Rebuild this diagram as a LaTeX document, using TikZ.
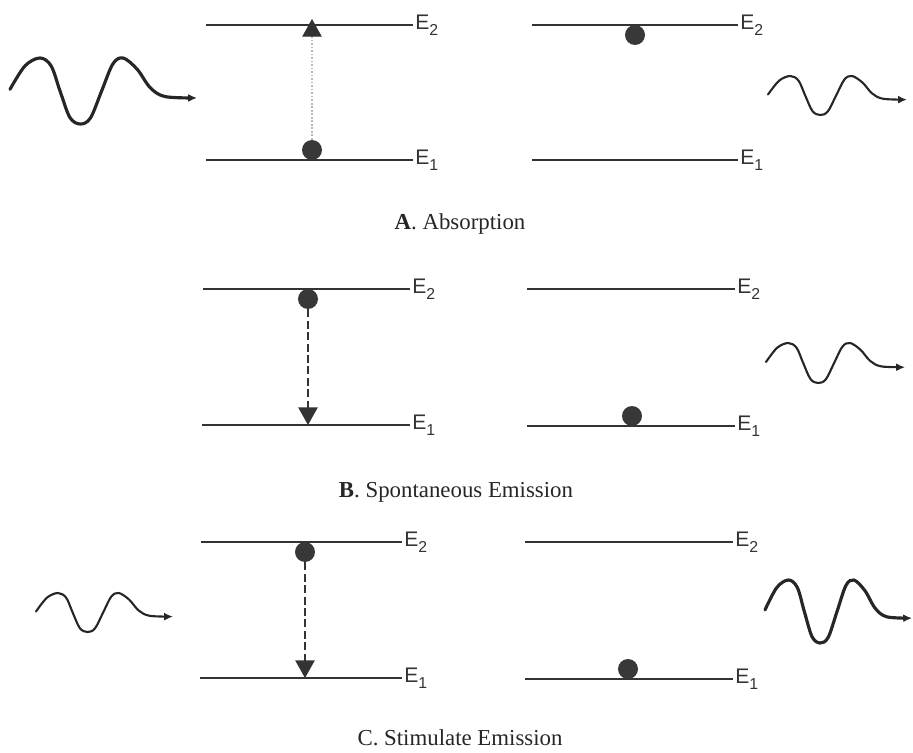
\documentclass[tikz,border=0pt]{standalone}
\usepackage{fontspec}
\setmainfont{Liberation Serif}
\newfontfamily\levelfont{Liberation Sans}
\usetikzlibrary{arrows.meta}

\tikzset{
  level/.style={draw=black!80, line width=0.7pt},
  levellabel/.style={anchor=west, inner sep=1pt, text=black!80,
    font=\levelfont\fontsize{12}{14}\selectfont},
  electron/.style={circle, fill=black!78, inner sep=0pt, minimum size=0.4cm},
  caption/.style={anchor=base, text=black!85, font=\fontsize{13}{15}\selectfont},
  photon/.style={draw=black!85, line width=1.2pt, line cap=round,
    -{Latex[length=5pt,width=4.5pt]}},
  decay/.style={draw=black!80, line width=0.7pt, dash pattern=on 4.5pt off 2pt,
    -{Triangle[length=10pt,width=11pt]}}
}

% level name with a low subscript
\newcommand{\lvl}[1]{E\raisebox{-0.55ex}{\fontsize{9}{9}\selectfont #1}}

% one photon, unit width and unit amplitude
\newcommand{\photon}{plot[smooth, tension=0.55] coordinates {(0,0.05) (0.08,0.76)
  (0.16,1) (0.22,0.76) (0.2675,0) (0.32,-0.8) (0.375,-1) (0.43,-0.82) (0.49,0)
  (0.55,0.82) (0.605,1) (0.68,0.66) (0.75,0.1) (0.83,-0.17) (1,-0.21)}}

\begin{document}
\begin{tikzpicture}[x=0.02cm, y=-0.02cm]
\useasboundingbox (0,0) rectangle (913,753);

% A. Absorption
\draw[level] (206,25) -- (413,25) node[levellabel] (la2) {\lvl{2}};
\draw[level] (206,160) -- (413,160) node[levellabel] (la1) {\lvl{1}};
\node[electron] (ea) at (312,150) {};
\coordinate (ta) at (312,19);
\draw[gray!55, line width=0.6pt, dash pattern=on 1pt off 1pt,
  -{Triangle[length=10pt,width=11pt,color=black!80]}] (ea) -- (ta);
\draw[level] (532,25) -- (738,25) node[levellabel] (ra2) {\lvl{2}};
\draw[level] (532,160) -- (738,160) node[levellabel] (ra1) {\lvl{1}};
\node[electron] (fa) at (635,35) {};
\begin{scope}[shift={(10,91)}, xscale=187, yscale=-33]
\draw[photon, line width=1.8pt] \photon;
\end{scope}
\begin{scope}[shift={(768,95.5)}, xscale=139, yscale=-19.5]
\draw[photon] \photon;
\end{scope}
\node[caption] (capa) at (460,230) {\textbf{A}. Absorption};

% B. Spontaneous Emission
\draw[level] (203,289) -- (410,289) node[levellabel] (lb2) {\lvl{2}};
\draw[level] (202,425) -- (410,425) node[levellabel] (lb1) {\lvl{1}};
\node[electron] (eb) at (308,299) {};
\coordinate (tb) at (308,425);
\draw[decay] (eb) -- (tb);
\draw[level] (527,289) -- (735,289) node[levellabel] (rb2) {\lvl{2}};
\draw[level] (527,426) -- (735,426) node[levellabel] (rb1) {\lvl{1}};
\node[electron] (fb) at (632,416) {};
\begin{scope}[shift={(766,363)}, xscale=139, yscale=-20]
\draw[photon] \photon;
\end{scope}
\node[caption] (capb) at (456,497) {\textbf{B}. Spontaneous Emission};

% C. Stimulate Emission
\draw[level] (201,542) -- (402,542) node[levellabel] (lc2) {\lvl{2}};
\draw[level] (200,678) -- (402,678) node[levellabel] (lc1) {\lvl{1}};
\node[electron] (ec) at (305,552) {};
\coordinate (tc) at (305,678);
\draw[decay] (ec) -- (tc);
\draw[level] (525,542) -- (733,542) node[levellabel] (rc2) {\lvl{2}};
\draw[level] (525,679) -- (733,679) node[levellabel] (rc1) {\lvl{1}};
\node[electron] (fc) at (628,669) {};
\begin{scope}[shift={(36,612.5)}, xscale=137, yscale=-19.5]
\draw[photon] \photon;
\end{scope}
\begin{scope}[shift={(765,611.5)}, xscale=147, yscale=-31.5]
\draw[photon, line width=1.8pt] \photon;
\end{scope}
\node[caption] (capc) at (460,745) {C. Stimulate Emission};
\end{tikzpicture}
\end{document}
